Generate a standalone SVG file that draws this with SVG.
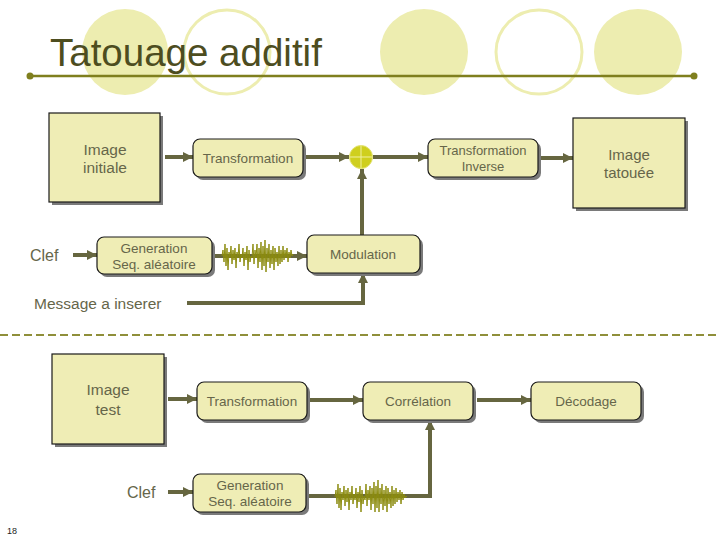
<svg xmlns="http://www.w3.org/2000/svg" width="720" height="540" viewBox="0 0 720 540">
<style>
.bg{fill:#ffffff}
.cf{fill:#EDEDB0}
.co{fill:none;stroke:#EDEDB0;stroke-width:3}
.box{fill:#EFEDB5;stroke:#1a1a1a;stroke-width:1.2}
.sh{fill:#7a7a7a}
.t{font-family:"Liberation Sans",Arial,sans-serif;fill:#66664A;text-anchor:middle}
.lbl{font-family:"Liberation Sans",Arial,sans-serif;fill:#66664A}
.c{fill:none;stroke:#666640;stroke-width:4}
.noise{fill:none;stroke:#8C8C10;stroke-width:1}
</style>
<defs>
<marker id="ah" markerUnits="userSpaceOnUse" markerWidth="12" markerHeight="12" refX="10" refY="6" orient="auto">
<path d="M0,1 L10,6 L0,11 Z" fill="#666640"/>
</marker>
</defs>
<rect class="bg" x="0" y="0" width="720" height="540"/>
<g id="decor">
<ellipse class="cf" cx="125" cy="52" rx="43" ry="43"/>
<ellipse class="co" cx="227" cy="52" rx="43" ry="42"/>
<ellipse class="cf" cx="424" cy="52" rx="44" ry="43"/>
<ellipse class="co" cx="539" cy="52" rx="43" ry="42"/>
<ellipse class="cf" cx="638" cy="52" rx="44" ry="43"/>
<line x1="30" y1="76" x2="694" y2="76" stroke="#7F7F1E" stroke-width="2.5"/>
<circle cx="30" cy="76" r="3.5" fill="#7F7F1E"/>
<circle cx="694" cy="76" r="3.5" fill="#7F7F1E"/>
<text x="50" y="66" font-family="'Liberation Sans',Arial,sans-serif" font-size="38.5" fill="#4D4D1F">Tatouage additif</text>
<line x1="0" y1="335" x2="720" y2="335" stroke="#8F8F3A" stroke-width="2" stroke-dasharray="8,4"/>
<text x="7" y="534" font-family="'Liberation Sans',Arial,sans-serif" font-size="9" fill="#222">18</text>
</g>
<g id="connectors">
<line class="c" x1="165" y1="157" x2="193" y2="157" marker-end="url(#ah)"/>
<line class="c" x1="303" y1="157" x2="349" y2="157" marker-end="url(#ah)"/>
<line class="c" x1="373" y1="157" x2="428" y2="157" marker-end="url(#ah)"/>
<line class="c" x1="538" y1="158" x2="573" y2="158" marker-end="url(#ah)"/>
<line class="c" x1="362" y1="235" x2="362" y2="169" marker-end="url(#ah)"/>
<line class="c" x1="73" y1="255" x2="97" y2="255" marker-end="url(#ah)"/>
<line class="c" x1="212" y1="256" x2="307" y2="256" marker-end="url(#ah)"/>
<polyline class="c" points="187,303 363,303 363,273" marker-end="url(#ah)"/>
<line class="c" x1="168" y1="399" x2="197" y2="399" marker-end="url(#ah)"/>
<line class="c" x1="307" y1="400" x2="363" y2="400" marker-end="url(#ah)"/>
<line class="c" x1="477" y1="400" x2="531" y2="400" marker-end="url(#ah)"/>
<line class="c" x1="168" y1="492" x2="193" y2="492" marker-end="url(#ah)"/>
<polyline class="c" points="306,496 430,496 430,420" marker-end="url(#ah)"/>
<polyline class="noise" points="222,256 223,250 224,262 225,244 226,266 227,248 228,270 229,252 230,258 231,246 232,264 233,250 234,260 235,248 236,268 237,252 238,258 239,244 240,262 241,254 242,258 243,248 244,266 245,252 246,260 247,246 248,270 249,250 250,262 251,256 252,258 253,244 254,264 255,250 256,258 257,244 258,268 259,248 260,262 261,242 262,270 263,246 264,266 265,240 266,272 267,248 268,262 269,244 270,268 271,250 272,264 273,246 274,270 275,248 276,262 277,252 278,266 279,246 280,264 281,250 282,262 283,246 284,260 285,250 286,258 287,248 288,262 289,252 290,258 291,250 292,256 293,254"/>
<polyline class="noise" points="335,497 336,490 337,504 338,484 339,508 340,488 341,510 342,492 343,500 344,486 345,506 346,490 347,502 348,488 349,510 350,492 351,500 352,486 353,504 354,494 355,500 356,488 357,508 358,492 359,502 360,486 361,512 362,490 363,504 364,496 365,500 366,484 367,506 368,490 369,500 370,486 371,510 372,488 373,504 374,482 375,512 376,486 377,508 378,480 379,512 380,488 381,504 382,484 383,510 384,490 385,506 386,486 387,512 388,488 389,504 390,492 391,508 392,486 393,506 394,490 395,504 396,488 397,502 398,492 399,500 400,490 401,504 402,492 403,500 404,494 405,498 406,496 407,497"/>
</g>
<g id="image-initiale">
<rect class="sh" x="52" y="116" width="111" height="89"/>
<rect class="box" x="49" y="113" width="111" height="89"/>
<text class="t" x="105" y="155" font-size="15.5">Image</text>
<text class="t" x="105" y="173" font-size="15.5">initiale</text>
</g>
<g id="transformation1">
<rect class="sh" x="196" y="142" width="110" height="38" rx="7"/>
<rect class="box" x="193" y="139" width="110" height="38" rx="7"/>
<text class="t" x="248" y="163" font-size="13.5">Transformation</text>
</g>
<g id="sum">
<circle cx="361" cy="157" r="11.5" fill="#CFCF1E" stroke="#E2E270" stroke-width="1"/>
<line x1="349.5" y1="157" x2="372.5" y2="157" stroke="#F0F0A0" stroke-width="1"/>
<line x1="361" y1="145.5" x2="361" y2="168.5" stroke="#F0F0A0" stroke-width="1"/>
</g>
<g id="transformation-inverse">
<rect class="sh" x="431" y="142" width="110" height="38" rx="7"/>
<rect class="box" x="428" y="139" width="110" height="38" rx="7"/>
<text class="t" x="483" y="155" font-size="13">Transformation</text>
<text class="t" x="483" y="171" font-size="13">Inverse</text>
</g>
<g id="image-tatouee">
<rect class="sh" x="576" y="121" width="112" height="90"/>
<rect class="box" x="573" y="118" width="112" height="90"/>
<text class="t" x="629" y="160" font-size="15">Image</text>
<text class="t" x="629" y="178" font-size="15">tatouée</text>
</g>
<g id="clef1">
<text class="lbl" x="30" y="261" font-size="16">Clef</text>
</g>
<g id="generation1">
<rect class="sh" x="100" y="240" width="115" height="37" rx="7"/>
<rect class="box" x="97" y="237" width="115" height="37" rx="7"/>
<text class="t" x="154" y="253" font-size="13.5">Generation</text>
<text class="t" x="154" y="269" font-size="13.5">Seq. aléatoire</text>
</g>
<g id="modulation">
<rect class="sh" x="310" y="238" width="113" height="38" rx="7"/>
<rect class="box" x="307" y="235" width="113" height="38" rx="7"/>
<text class="t" x="363" y="259" font-size="13.5">Modulation</text>
</g>
<g id="message">
<text class="lbl" x="34" y="309" font-size="15.5">Message a inserer</text>
</g>
<g id="image-test">
<rect class="sh" x="55" y="357" width="112" height="90"/>
<rect class="box" x="52" y="354" width="112" height="90"/>
<text class="t" x="108" y="395" font-size="15.5">Image</text>
<text class="t" x="108" y="415" font-size="15.5">test</text>
</g>
<g id="transformation2">
<rect class="sh" x="200" y="385" width="110" height="38" rx="7"/>
<rect class="box" x="197" y="382" width="110" height="38" rx="7"/>
<text class="t" x="252" y="406" font-size="13.5">Transformation</text>
</g>
<g id="correlation">
<rect class="sh" x="366" y="385" width="110" height="38" rx="7"/>
<rect class="box" x="363" y="382" width="110" height="38" rx="7"/>
<text class="t" x="418" y="406" font-size="13.5">Corrélation</text>
</g>
<g id="decodage">
<rect class="sh" x="534" y="385" width="110" height="38" rx="7"/>
<rect class="box" x="531" y="382" width="110" height="38" rx="7"/>
<text class="t" x="586" y="406" font-size="13.5">Décodage</text>
</g>
<g id="clef2">
<text class="lbl" x="127" y="498" font-size="16">Clef</text>
</g>
<g id="generation2">
<rect class="sh" x="196" y="477" width="113" height="38" rx="7"/>
<rect class="box" x="193" y="474" width="113" height="38" rx="7"/>
<text class="t" x="250" y="490" font-size="13.5">Generation</text>
<text class="t" x="250" y="506" font-size="13.5">Seq. aléatoire</text>
</g>
</svg>
